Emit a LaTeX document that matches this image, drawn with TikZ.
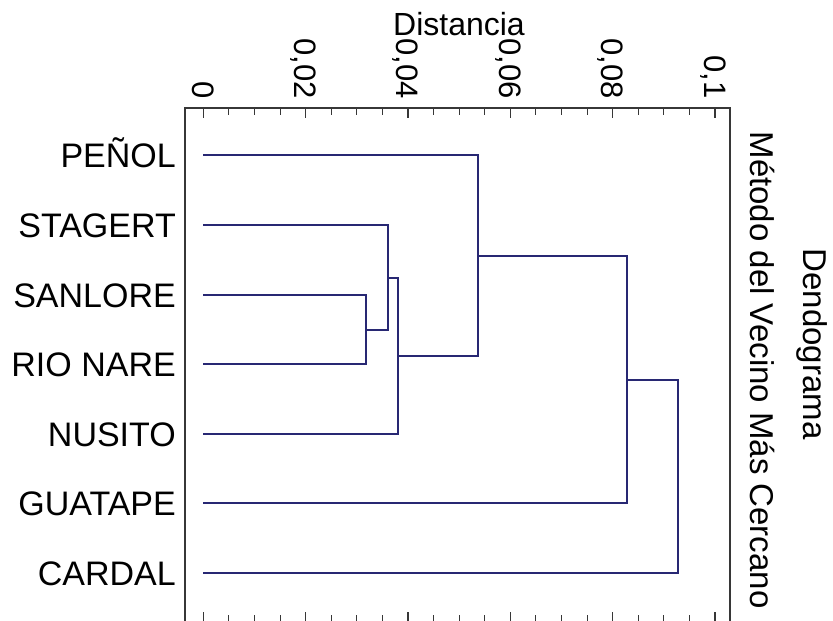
\documentclass[tikz,border=0pt]{standalone}
\usepackage{fontspec}
\setmainfont{Liberation Sans}
\definecolor{dendro}{RGB}{40,40,115}
\definecolor{framec}{RGB}{55,55,55}
\begin{document}
\begin{tikzpicture}[x=1pt,y=-1pt,
  lbl/.style={anchor=base east,inner sep=0pt,font=\fontsize{34}{40}\selectfont},
  ticklbl/.style={anchor=base east,rotate=-90,inner sep=0pt,font=\fontsize{31}{36}\selectfont},
  ttl/.style={anchor=base,inner sep=0pt,font=\fontsize{33}{40}\selectfont},
  branch/.style={draw=dendro,line width=1.8pt},
  framel/.style={draw=framec,line width=1.3pt},
  tickl/.style={draw=framec,line width=1.1pt}]
\useasboundingbox (0,0) rectangle (833,621);
% frame
\draw[framel] (185,108) rectangle (730,623);
% ticks
\foreach \i in {0,...,20}{
  \pgfmathsetmacro{\tx}{203.3+\i*25.585}
  \pgfmathsetmacro{\tl}{ifthenelse(mod(\i,4)==0,10,7)}
  \draw[tickl] (\tx,108) -- (\tx,108+\tl);
  \draw[tickl] (\tx,622) -- (\tx,622-\tl);
}
% tick labels
\foreach \i/\t in {0/0,4/{0,02},8/{0,04},12/{0,06},16/{0,08},20/{0,1}}{
  \pgfmathsetmacro{\tx}{203.3+\i*25.585-11}
  \node[ticklbl] (t\i) at (\tx,99) {\t};
}
% titles
\node[inner sep=0pt,anchor=base,font=\fontsize{32}{38}\selectfont] (xtitle) at (459,35) {Distancia};
\node[ttl,rotate=-90] (title1) at (803,344) {Dendograma};
\node[ttl,rotate=-90] (title2) at (750,370) {Método del Vecino Más Cercano};
% leaves
\foreach \n/\t/\y in {PEN/PEÑOL/155, STA/STAGERT/225, SAN/SANLORE/295, RIO/RIO NARE/364, NUS/NUSITO/434, GUA/GUATAPE/503, CAR/CARDAL/573}{
  \coordinate (l\n) at (203,\y);
  \node[lbl] (n\n) at (176,\y+12.2) {\t};
}
% merge points
\coordinate (m1) at (366,330);
\coordinate (m2) at (388,278);
\coordinate (m3) at (398,356);
\coordinate (m4) at (478,256);
\coordinate (m5) at (627,380);
\coordinate (m6) at (678,477);
% branches
\draw[branch] (lSAN) -| (m1) |- (lRIO);
\draw[branch] (lSTA) -| (m2) |- (m1);
\draw[branch] (m2) -| (m3) |- (lNUS);
\draw[branch] (lPEN) -| (m4) |- (m3);
\draw[branch] (m4) -| (m5) |- (lGUA);
\draw[branch] (m5) -| (m6) |- (lCAR);
\end{tikzpicture}
\end{document}
